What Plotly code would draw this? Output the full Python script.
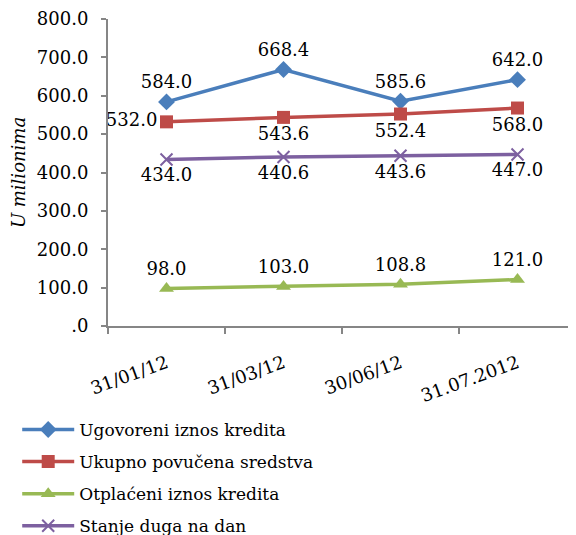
import plotly.graph_objects as go

categories = ["31/01/12", "31/03/12", "30/06/12", "31.07.2012"]
ugovoreni = [584.0, 668.4, 585.6, 642.0]
povucena = [532.0, 543.6, 552.4, 568.0]
otplaceni = [98.0, 103.0, 108.8, 121.0]
stanje = [434.0, 440.6, 443.6, 447.0]
y_ticks = [0, 100, 200, 300, 400, 500, 600, 700, 800]
y_tick_labels = [".0", "100.0", "200.0", "300.0", "400.0", "500.0", "600.0", "700.0", "800.0"]

names = ["Ugovoreni iznos kredita", "Ukupno povučena sredstva",
         "Otplaćeni iznos kredita", "Stanje duga na dan"]
colors = ["#4A7EBB", "#BE4B48", "#98B954", "#7D60A0"]
symbols = ["diamond", "square", "triangle-up", "x-thin"]
series = [ugovoreni, povucena, otplaceni, stanje]
red_pos = ["middle left", "bottom center", "bottom center", "bottom center"]
positions = ["top center", red_pos, "top center", "bottom center"]

FONT = "DejaVu Serif"
fig = go.Figure()
for i, (name, vals, col, sym, pos) in enumerate(zip(names, series, colors, symbols, positions)):
    fig.add_trace(go.Scatter(
        x=categories, y=vals, name=name, mode="lines+markers+text",
        legendgroup=f"g{i}",
        line=dict(color=col, width=3.5),
        marker=dict(symbol=sym, size=13 if sym != "x-thin" else 12, color=col,
                    line=dict(color=col, width=2 if sym == "x-thin" else 0)),
        text=[f"{v:.1f}" for v in vals], textposition=pos,
        textfont=dict(family=FONT, size=18, color="#000000"),
        cliponaxis=False,
    ))

fig.update_layout(
    width=576, height=535,
    margin=dict(l=100, r=8, t=11, b=217, autoexpand=False),
    paper_bgcolor="white", plot_bgcolor="white",
    font=dict(family=FONT, size=18, color="#000000"),
    showlegend=True,
    legend=dict(orientation="v", x=-0.194, xanchor="left", y=-0.28, yanchor="top",
                font=dict(family=FONT, size=17), itemwidth=52,
                tracegroupgap=7, bgcolor="rgba(0,0,0,0)"),
    xaxis=dict(type="category", range=[-0.5, 3.5], showline=True, linecolor="#868686",
               linewidth=2, ticks="outside", tickson="boundaries", ticklen=6,
               tickcolor="#868686", tickwidth=2, tickangle=-20, ticklabelstandoff=18,
               tickfont=dict(family=FONT, size=18), showgrid=False, zeroline=False),
    yaxis=dict(range=[0, 800], showline=True, linecolor="#868686",
               linewidth=2, ticks="outside", ticklen=5, tickcolor="#868686", tickwidth=2,
               tickvals=y_ticks, ticktext=y_tick_labels,
               ticklabeloverflow="allow", ticklabelstandoff=9,
               tickfont=dict(family=FONT, size=18), showgrid=False, zeroline=False,
               title=dict(text="<i>U milionima</i>", font=dict(family=FONT, size=18), standoff=7)),
)

fig.write_html("out.html")
